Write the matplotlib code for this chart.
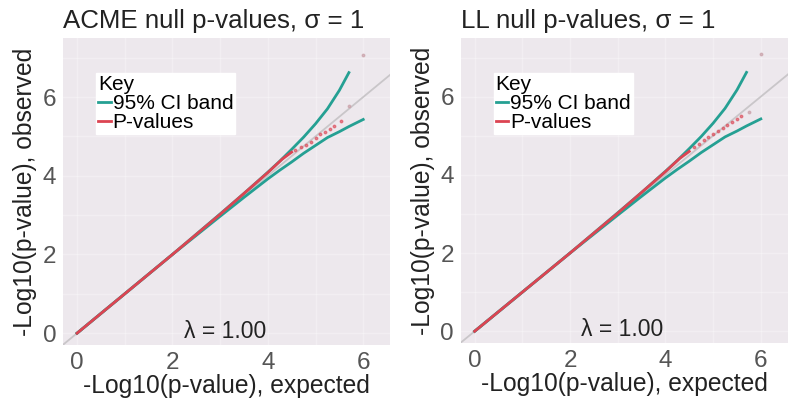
import matplotlib
matplotlib.use("Agg")
import matplotlib.pyplot as plt
from matplotlib.lines import Line2D

plt.rcParams['font.family'] = ['Liberation Sans', 'DejaVu Sans']

titles = ["ACME null p-values, \u03c3 = 1", "LL null p-values, \u03c3 = 1"]
lambda_text = "\u03bb = 1.00"

# 95% CI band (expected vs bounds)
ci_x = [0.0, 1.0, 2.0, 3.0, 3.5, 4.0, 4.25, 4.5, 4.75, 5.0, 5.25, 5.5, 5.7]
ci_upper = [0.0, 1.0, 2.0, 3.03, 3.55, 4.09, 4.37, 4.67, 4.98, 5.32, 5.70, 6.17, 6.62]
ci_x_low = [0.0, 1.0, 2.0, 3.0, 3.5, 4.0, 4.25, 4.5, 4.75, 5.0, 5.25, 5.5, 5.7, 5.85, 6.0]
ci_lower = [0.0, 1.0, 2.0, 2.97, 3.45, 3.92, 4.14, 4.35, 4.57, 4.77, 4.97, 5.12, 5.25, 5.34, 5.43]

# Observed p-values: solid body and sparse tail points
acme_body_x = [0.0, 1.0, 2.0, 3.0, 3.5, 4.0, 4.3, 4.5]
acme_body_y = [0.0, 1.0, 2.0, 3.02, 3.55, 4.08, 4.42, 4.6]
acme_tail_x = [4.58, 4.7, 4.8, 4.9, 5.0, 5.1, 5.2, 5.3, 5.38, 5.53, 5.7, 6.0]
acme_tail_y = [4.65, 4.72, 4.78, 4.85, 4.95, 5.05, 5.12, 5.2, 5.27, 5.38, 5.78, 7.07]

ll_body_x = [0.0, 1.0, 2.0, 3.0, 3.5, 4.0, 4.3, 4.5]
ll_body_y = [0.0, 1.0, 2.0, 3.02, 3.55, 4.08, 4.42, 4.6]
ll_tail_x = [4.6, 4.7, 4.8, 4.9, 5.0, 5.1, 5.2, 5.3, 5.4, 5.5, 5.58, 5.76, 6.0]
ll_tail_y = [4.7, 4.8, 4.9, 4.98, 5.05, 5.12, 5.2, 5.28, 5.35, 5.43, 5.5, 5.6, 7.1]

xticks = [0, 2, 4, 6]
yticks = [0, 2, 4, 6]
xlabel = "-Log10(p-value), expected"
ylabel = "-Log10(p-value), observed"

teal = "#25a093"
red = "#dc4452"
panel_bg = "#ede8ed"

fig = plt.figure(figsize=(8.0, 4.04), dpi=100)
positions = [[0.079, 0.146, 0.409, 0.76], [0.576, 0.151, 0.409, 0.755]]
data = [(acme_body_x, acme_body_y, acme_tail_x, acme_tail_y),
        (ll_body_x, ll_body_y, ll_tail_x, ll_tail_y)]

for pos, title, (bx, by, tx, ty) in zip(positions, titles, data):
    ax = fig.add_axes(pos)
    ax.set_facecolor(panel_bg)
    for s in ax.spines.values():
        s.set_visible(False)
    ax.set_xlim(-0.29, 6.57)
    ax.set_ylim(-0.3, 7.5)
    ax.set_xticks(xticks)
    ax.set_yticks(yticks)
    ax.set_xticks([1, 3, 5], minor=True)
    ax.set_yticks([1, 3, 5, 7], minor=True)
    ax.grid(True, which='both', color='white', lw=1.0, alpha=0.3)
    ax.set_axisbelow(True)
    ax.tick_params(axis='both', which='both', length=0, labelsize=17.5,
                   labelcolor='#555555', pad=5)
    ax.axline((0, 0), slope=1, color='#c9c6c9', lw=1.3, zorder=1)
    ax.plot(ci_x, ci_upper, color=teal, lw=2.0, zorder=2)
    ax.plot(ci_x_low, ci_lower, color=teal, lw=2.0, zorder=2)
    ax.plot(bx, by, color=red, lw=2.0, zorder=3)
    ax.plot(tx[:-2], ty[:-2], linestyle='none', marker='o', ms=1.8,
            color=red, alpha=0.6, zorder=3)
    ax.plot(tx[-2:], ty[-2:], linestyle='none', marker='o', ms=1.8,
            color='#c9a0a8', alpha=0.7, zorder=3)
    ax.text(3.1, -0.25, lambda_text, fontsize=16.5, ha='center', va='bottom',
            color='#222222')
    ax.set_xlabel(xlabel, fontsize=17.7, color='#222222', labelpad=0)
    ax.set_ylabel(ylabel, fontsize=17.7, color='#222222', labelpad=4)
    ax.set_title(title, fontsize=18.6, loc='left', pad=7, color='#222222')
    handles = [Line2D([], [], color=teal, lw=2), Line2D([], [], color=red, lw=2)]
    leg = ax.legend(handles, ["95% CI band", "P-values"], title="Key",
                    loc='upper left', bbox_to_anchor=(0.1, 0.885),
                    fontsize=15, title_fontsize=15, handlelength=0.6,
                    handletextpad=0.1, labelspacing=0.0, borderpad=0.1,
                    borderaxespad=0, frameon=True, fancybox=False,
                    framealpha=1.0, edgecolor='white')
    leg._legend_box.align = 'left'
    leg._legend_box.sep = 0

fig.savefig("out.png", dpi=100)
